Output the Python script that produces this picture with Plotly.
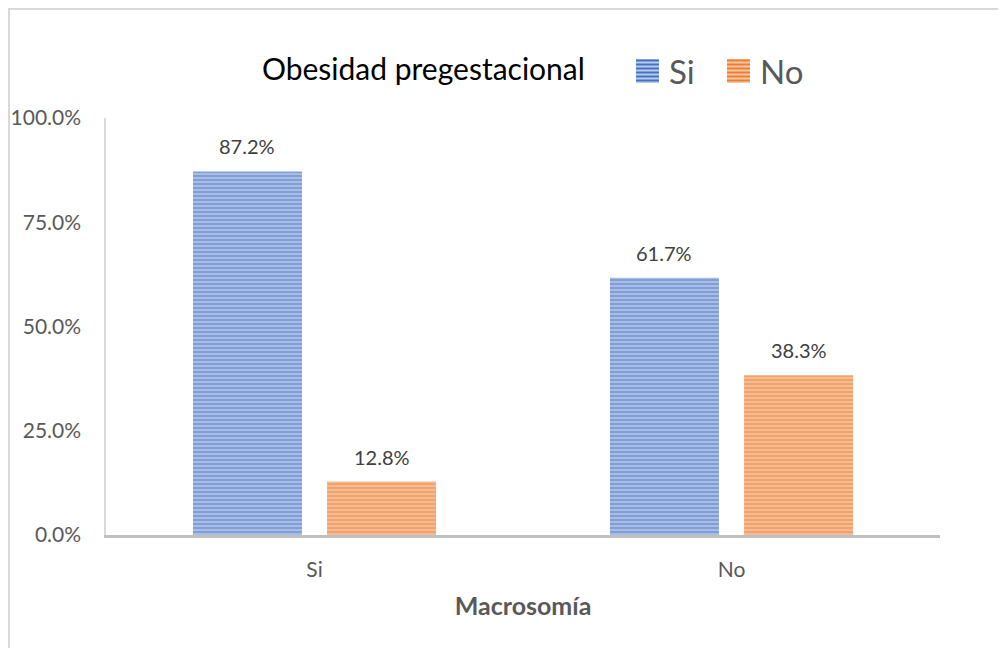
import plotly.graph_objects as go

categories = ["Si", "No"]
series_names = ["Si", "No"]
si_values = [0.872, 0.617]
no_values = [0.128, 0.383]
tick_vals = [0, 0.25, 0.5, 0.75, 1.0]
tick_text = ["0.0%", "25.0%", "50.0%", "75.0%", "100.0%"]

FONT = "Lato, 'Open Sans', sans-serif"
BLUE, BLUE_BG = "#4472c4", "#bccbea"
ORANGE, ORANGE_BG = "#ed7d31", "#f7c8a6"

# page has an 8px body margin: figure spans screen 8..1006 x 8..648
PL, PR, PT, PB = 106, 940, 118, 535   # plot area in screen px
BARGAP = 0.357
GROUPGAP = 0.187


def sx(px):
    return (px - PL) / (PR - PL)


def sy(py):
    return (PB - py) / (PB - PT)


fig = go.Figure()
for name, vals, fg, bg in [(series_names[0], si_values, BLUE, BLUE_BG),
                           (series_names[1], no_values, ORANGE, ORANGE_BG)]:
    fig.add_trace(go.Bar(
        name=name, x=categories, y=vals,
        marker=dict(color=bg, line=dict(width=0),
                    pattern=dict(shape="-", fgcolor=fg, bgcolor=bg,
                                 size=4, solidity=0.66)),
        showlegend=False,
    ))

annotations = []
slot = (PR - PL) / 2 * (1 - BARGAP) / 2  # px width of one bar slot
for i, vals in enumerate([si_values, no_values]):
    shift = (-0.5 + i) * slot
    for c, v in zip(categories, vals):
        annotations.append(dict(x=c, y=v, xref="x", yref="y", text=f"{v*100:.1f}%",
                                showarrow=False, xshift=shift, yshift=25,
                                yanchor="middle",
                                font=dict(size=20, color="#404040", family=FONT)))

annotations.append(dict(text="Obesidad pregestacional", xref="paper", yref="paper",
                        x=sx(260), y=sy(68), xanchor="left", yanchor="middle",
                        showarrow=False, font=dict(size=30, color="#000000", family=FONT)))

shapes = [dict(type="rect", xref="paper", yref="paper",
               x0=sx(9), x1=sx(1040), y0=sy(700), y1=sy(9),
               line=dict(color="#d9d9d9", width=2), layer="below")]

# manual legend with striped swatches
legend_items = [(series_names[0], BLUE, BLUE_BG, 636, 667),
                (series_names[1], ORANGE, ORANGE_BG, 727, 758)]
for name, fg, bg, x0, tx in legend_items:
    shapes.append(dict(type="rect", xref="paper", yref="paper",
                       x0=sx(x0), x1=sx(x0 + 23), y0=sy(83), y1=sy(59),
                       fillcolor=bg, line=dict(width=0)))
    for k in range(6):
        yy = 60.5 + 4 * k
        shapes.append(dict(type="line", xref="paper", yref="paper",
                           x0=sx(x0), x1=sx(x0 + 23), y0=sy(yy), y1=sy(yy),
                           line=dict(color=fg, width=2)))
    annotations.append(dict(text=name, xref="paper", yref="paper",
                            x=sx(tx), y=sy(71), xanchor="left", yanchor="middle",
                            showarrow=False, font=dict(size=33, color="#595959", family=FONT)))

fig.update_layout(
    width=998, height=640,
    margin=dict(l=PL - 8, r=1006 - PR, t=PT - 8, b=648 - PB),
    paper_bgcolor="white", plot_bgcolor="white",
    barmode="group", bargap=BARGAP, bargroupgap=GROUPGAP,
    font=dict(family=FONT, color="#595959"),
    showlegend=False,
    annotations=annotations,
    shapes=shapes,
)

fig.update_xaxes(
    automargin=False,
    showline=True, linecolor="#bfbfbf", linewidth=3,
    showgrid=False, ticks="", ticklabelstandoff=14,
    tickfont=dict(size=21, color="#595959", family=FONT),
    title=dict(text="<b>Macrosomía</b>", standoff=18,
               font=dict(size=25, color="#595959", family=FONT)),
)
fig.update_yaxes(
    automargin=False,
    range=[0, 1], tickvals=tick_vals, ticktext=tick_text,
    showline=True, linecolor="#d9d9d9", linewidth=1.5,
    showgrid=False, zeroline=False, ticks="", ticklabelstandoff=19,
    tickfont=dict(size=21, color="#595959", family=FONT),
)

fig.write_html("out.html")
